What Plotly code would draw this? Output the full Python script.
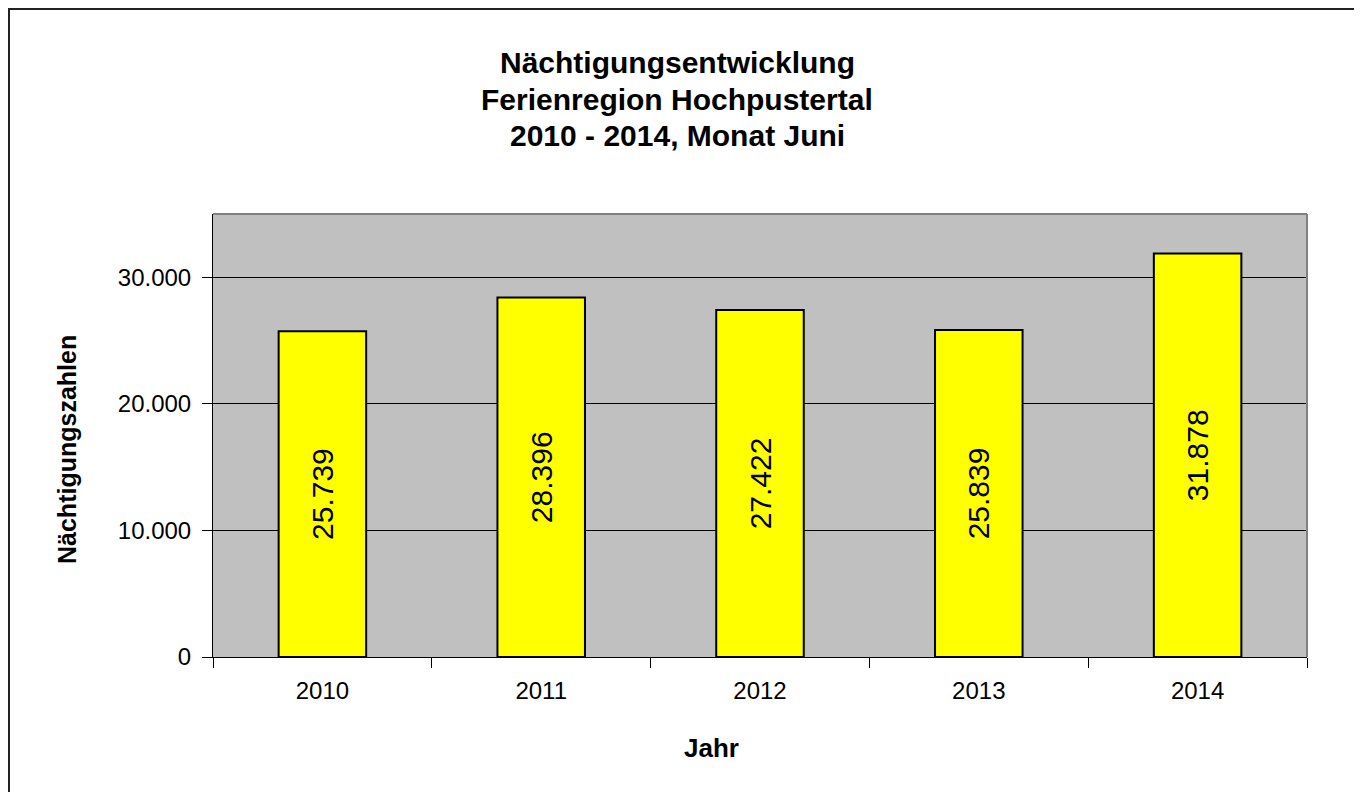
import plotly.graph_objects as go

years = ["2010", "2011", "2012", "2013", "2014"]
nights = [25739, 28396, 27422, 25839, 31878]
y_ticks = [0, 10000, 20000, 30000]
title_lines = ["Nächtigungsentwicklung", "Ferienregion Hochpustertal", "2010 - 2014, Monat Juni"]

W, H = 1362, 792
OFF = 8  # page body margin
L, R, T, B = 213 - OFF, 1307 - OFF, 214 - OFF, 657 - OFF

def px_x(p):
    return (p - OFF - L) / (R - L)

def px_y(p):
    return (B - (p - OFF)) / (B - T)

fig = go.Figure()
fig.add_trace(go.Bar(
    x=years, y=nights, width=0.4,
    marker=dict(color="#FFFF00", line=dict(color="black", width=2)),
    texttemplate="%{y:,}", textposition="inside", insidetextanchor="middle",
    textangle=-90, textfont=dict(family="Liberation Sans, Arial", size=30, color="black"),
    hoverinfo="skip",
))

fig.update_layout(
    width=W, height=H,
    margin=dict(l=L, r=W - R, t=T, b=H - B),
    paper_bgcolor="white", plot_bgcolor="#C0C0C0",
    separators=",.",
    showlegend=False,
    font=dict(family="Liberation Sans, Arial", color="black"),
    xaxis=dict(
        type="category", tickson="boundaries", ticks="outside", ticklen=10,
        tickcolor="black", tickwidth=1, showline=True, linecolor="black", linewidth=1,
        tickfont=dict(size=24, color="black"), showgrid=False, range=[-0.5, 4.5],
        ticklabelstandoff=12,
    ),
    yaxis=dict(
        range=[0, 35000], tickvals=y_ticks, tickformat=",", ticks="outside", ticklen=10,
        tickcolor="black", tickwidth=1, showline=True, linecolor="black", linewidth=1,
        showgrid=True, gridcolor="black", gridwidth=1, zeroline=False,
        tickfont=dict(size=24, color="black"), ticklabelstandoff=6,
    ),
    bargap=0.6,
)

# title as three lines
for line, yc in zip(title_lines, [63, 99, 135]):
    fig.add_annotation(text=line, xref="paper", yref="paper",
                       x=px_x(677), y=px_y(yc), showarrow=False,
                       xanchor="center", yanchor="middle",
                       font=dict(size=30, color="black", weight="bold"))

# plot area top and right gray border
fig.add_shape(type="line", xref="paper", yref="paper", x0=0, x1=1, y0=1, y1=1,
              line=dict(color="#808080", width=2))
fig.add_shape(type="line", xref="paper", yref="paper", x0=1, x1=1, y0=0, y1=1,
              line=dict(color="#808080", width=2))
# outer chart border
fig.add_shape(type="rect", xref="paper", yref="paper",
              x0=px_x(9), x1=px_x(1361), y0=px_y(9), y1=px_y(810),
              line=dict(color="#222222", width=2), fillcolor="rgba(0,0,0,0)", layer="above")

fig.add_annotation(text="Nächtigungszahlen", xref="paper", yref="paper",
                   x=px_x(67), y=px_y(450), showarrow=False, textangle=-90,
                   xanchor="center", yanchor="middle",
                   font=dict(size=25, color="black", weight="bold"))
fig.add_annotation(text="Jahr", xref="paper", yref="paper",
                   x=px_x(711), y=px_y(748), showarrow=False,
                   xanchor="center", yanchor="middle",
                   font=dict(size=26, color="black", weight="bold"))

fig.write_html("out.html")
